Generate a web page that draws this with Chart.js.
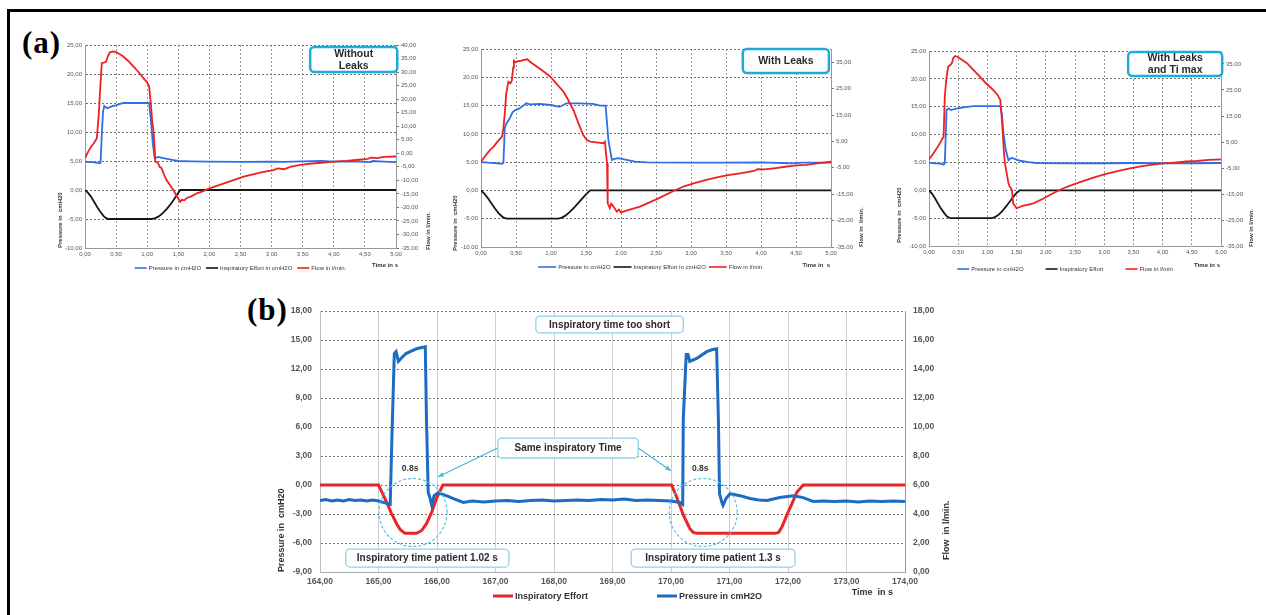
<!DOCTYPE html>
<html>
<head>
<meta charset="utf-8">
<script src="https://cdn.jsdelivr.net/npm/chart.js@4.4.1/dist/chart.umd.min.js"></script>
<style>
  html, body { margin: 0; background: #fff; }
  body { width: 1266px; height: 615px; position: relative; overflow: hidden; }
  .frame { position: absolute; left: 7px; top: 9px; right: -10px; bottom: -10px; border-top: 3px solid #000; border-left: 3px solid #000; }
  .tag { position: absolute; font: bold 31px 'Liberation Serif', 'Times New Roman', serif; line-height: 1; color: #000; letter-spacing: 1px; }
  canvas { position: absolute; }
</style>
</head>
<body>
<div class="frame"></div>
<div class="tag" style="left:22px;top:27px">(a)</div>
<div class="tag" style="left:247px;top:294px">(b)</div>
<canvas id="a1" width="400" height="240" style="left:50px;top:38px"></canvas>
<canvas id="a2" width="430" height="240" style="left:445px;top:38px"></canvas>
<canvas id="a3" width="380" height="240" style="left:885px;top:38px"></canvas>
<canvas id="b" width="700" height="312" style="left:268px;top:298px"></canvas>
<script>
// ---- tick labels ----
const A_TIME_TICKS = [0, 0.5, 1, 1.5, 2, 2.5, 3, 3.5, 4, 4.5, 5]
const A_PRESSURE_TICKS = [-10, -5, 0, 5, 10, 15, 20, 25]
const A1_FLOW_TICKS = [-35, -30, -25, -20, -15, -10, -5, 0, 5, 10, 15, 20, 25, 30, 35, 40]
const A23_FLOW_TICKS = [-35, -25, -15, -5, 5, 15, 25, 35]
const B_TIME_TICKS = [164, 165, 166, 167, 168, 169, 170, 171, 172, 173, 174]
const B_PRESSURE_TICKS = [-9, -6, -3, 0, 3, 6, 9, 12, 15, 18]
const B_FLOW_TICKS = [0, 2, 4, 6, 8, 10, 12, 14, 16, 18]

// ---- (a) without leaks: [time s, value] ----
const a1Pressure = [[0,4.9],[0.05,4.8],[0.1,4.85],[0.15,4.75],[0.2,4.7],[0.23,4.6],[0.25,4.7],[0.27,9.5],[0.29,13.5],[0.31,14.5],[0.33,14.3],[0.36,14.1],[0.4,14.3],[0.45,14.5],[0.5,14.6],[0.55,14.8],[0.62,15.0],[0.8,15.0],[0.95,15.0],[1.03,15.0],[1.06,12.0],[1.09,8.0],[1.12,5.5],[1.15,5.6],[1.18,5.7],[1.22,5.6],[1.3,5.4],[1.4,5.2],[1.5,5.0],[1.7,4.95],[2.0,4.9],[2.5,4.85],[3.0,4.9],[3.2,4.85],[3.5,4.95],[3.8,5.0],[4.0,4.9],[4.3,4.95],[4.6,4.8],[4.62,5.0],[4.8,4.9],[5.0,4.8]]
const a1Effort = [[0,0],[0.05,-0.5],[0.1,-1.2],[0.15,-2.1],[0.2,-3.0],[0.25,-3.8],[0.3,-4.5],[0.34,-4.85],[0.38,-5],[1.07,-5],[1.12,-4.9],[1.18,-4.6],[1.25,-4.0],[1.32,-3.2],[1.4,-2.1],[1.47,-1.0],[1.53,0],[5,0]]
const a1Flow = [[0,-1.8],[0.05,0.5],[0.1,2.5],[0.15,4.0],[0.19,5.6],[0.22,14],[0.25,26],[0.27,33.3],[0.3,33.5],[0.34,33.8],[0.37,36],[0.4,37.3],[0.45,37.6],[0.5,37.4],[0.6,36],[0.7,34],[0.78,32],[0.85,30.3],[0.92,28.3],[0.99,26.4],[1.03,24.9],[1.06,18],[1.08,12],[1.1,8.6],[1.12,2],[1.13,-3.1],[1.17,-3.5],[1.2,-5],[1.23,-5.5],[1.27,-7.8],[1.31,-9.9],[1.36,-11.5],[1.42,-13.6],[1.47,-15.6],[1.53,-17.9],[1.56,-17.2],[1.6,-17.4],[1.63,-16.6],[1.7,-16.0],[1.8,-14.8],[1.9,-14.0],[2.0,-13.0],[2.2,-11.4],[2.4,-9.8],[2.55,-8.6],[2.7,-7.8],[2.85,-7.0],[3.03,-6.2],[3.1,-5.6],[3.2,-5.9],[3.3,-5.0],[3.46,-4.3],[3.6,-3.9],[3.8,-3.5],[3.99,-3.1],[4.2,-2.8],[4.4,-2.4],[4.53,-2.2],[4.6,-1.6],[4.7,-1.8],[4.8,-1.3],[5.0,-1.2]]

// ---- (a) with leaks ----
const a2Pressure = [[0,5.0],[0.1,4.9],[0.2,4.85],[0.3,4.7],[0.32,4.9],[0.34,11.0],[0.36,11.8],[0.41,12.7],[0.45,13.8],[0.49,14.2],[0.55,14.5],[0.65,15.4],[0.7,15.2],[0.84,15.3],[1.0,15.1],[1.1,14.8],[1.13,14.8],[1.22,15.4],[1.4,15.4],[1.6,15.3],[1.7,15.0],[1.78,15.0],[1.82,8.9],[1.87,5.4],[1.91,5.6],[1.96,5.7],[2.08,5.4],[2.2,5.1],[2.37,4.95],[3.0,4.9],[3.5,4.9],[4.0,4.95],[4.4,4.8],[4.6,4.9],[5.0,4.9]]
const a2Effort = [[0,0],[0.05,-0.6],[0.1,-1.4],[0.15,-2.3],[0.2,-3.2],[0.25,-4.0],[0.3,-4.6],[0.34,-4.9],[0.37,-5],[1.1,-5],[1.15,-4.85],[1.2,-4.5],[1.27,-3.8],[1.34,-2.9],[1.42,-1.8],[1.5,-0.7],[1.56,0],[5,0]]
const a2Flow = [[0,-2.7],[0.06,-0.5],[0.12,1.5],[0.18,3.0],[0.24,5.0],[0.3,6.8],[0.32,10],[0.34,15.6],[0.36,23],[0.39,27.6],[0.42,27.0],[0.44,28],[0.46,33],[0.47,35.6],[0.5,34.9],[0.53,35.5],[0.56,35.4],[0.6,35.8],[0.66,36.1],[0.72,34.8],[0.8,33.3],[0.9,31.4],[0.99,29.5],[1.08,26.8],[1.18,23.8],[1.25,20.5],[1.32,16.9],[1.39,12.0],[1.46,7.4],[1.51,5.6],[1.56,4.9],[1.65,4.6],[1.75,4.3],[1.77,4.9],[1.8,-3.3],[1.81,-18.4],[1.84,-20.3],[1.86,-18.6],[1.89,-19.6],[1.94,-21.6],[1.97,-20.8],[2.0,-21.9],[2.1,-21.0],[2.27,-19.7],[2.4,-18.2],[2.55,-16.4],[2.75,-13.8],[2.9,-12.0],[3.05,-10.8],[3.22,-9.6],[3.4,-8.4],[3.55,-7.7],[3.7,-7.1],[3.9,-6.2],[3.95,-5.5],[4.05,-5.6],[4.18,-5.2],[4.35,-4.6],[4.5,-4.1],[4.65,-3.9],[4.8,-3.3],[5.0,-2.7]]

// ---- (a) with leaks and Ti max ----
const a3Pressure = [[0,4.95],[0.1,4.85],[0.2,4.8],[0.25,4.6],[0.27,4.8],[0.29,11],[0.3,14.4],[0.34,14.7],[0.37,14.4],[0.45,14.6],[0.59,14.9],[0.76,15.1],[1.0,15.1],[1.22,15.1],[1.25,13.5],[1.27,10.8],[1.31,7.5],[1.36,5.4],[1.39,5.7],[1.42,5.8],[1.5,5.5],[1.56,5.3],[1.7,5.05],[1.84,4.9],[2.5,4.85],[3.0,4.85],[3.5,4.9],[4.0,4.85],[4.5,4.85],[5.0,4.9]]
const a3Effort = [[0,0],[0.05,-0.6],[0.1,-1.4],[0.15,-2.3],[0.2,-3.2],[0.26,-4.1],[0.31,-4.7],[0.35,-4.95],[0.39,-5],[1.07,-5],[1.12,-4.85],[1.18,-4.5],[1.25,-3.8],[1.32,-2.9],[1.4,-1.8],[1.48,-0.7],[1.55,0],[5,0]]
const a3Flow = [[0,-1.7],[0.08,0.8],[0.16,3.5],[0.25,7.0],[0.27,22.4],[0.3,30],[0.33,34.0],[0.36,34.5],[0.39,35.3],[0.42,37.5],[0.45,38.1],[0.5,37.6],[0.57,36.5],[0.65,35.3],[0.76,32.7],[0.87,30.1],[0.98,27.5],[1.1,25.0],[1.17,23.2],[1.22,21.2],[1.24,16],[1.26,9.6],[1.28,2],[1.3,-3.2],[1.33,-7],[1.36,-10.9],[1.38,-12.0],[1.42,-13.5],[1.44,-18.6],[1.47,-19.5],[1.5,-20.5],[1.55,-20.0],[1.62,-19.5],[1.7,-19.1],[1.79,-18.6],[1.95,-16.8],[2.1,-15.0],[2.3,-12.8],[2.5,-11.1],[2.7,-9.6],[2.87,-8.3],[3.05,-7.2],[3.25,-6.1],[3.44,-5.1],[3.6,-4.5],[3.8,-3.8],[4.01,-3.2],[4.2,-2.9],[4.4,-2.5],[4.58,-2.3],[4.8,-1.9],[5.0,-1.7]]

// ---- (b) two breaths ----
const bEffort = [[164,0],[165.0,0],[165.07,-0.9],[165.14,-1.8],[165.22,-2.9],[165.31,-4.0],[165.37,-4.6],[165.45,-5.0],[165.65,-5.0],[165.74,-4.7],[165.82,-4.0],[165.91,-2.8],[165.99,-1.4],[166.1,0],[170.01,0],[170.1,-1.3],[170.21,-3.1],[170.32,-4.5],[170.38,-4.9],[170.44,-5.0],[171.78,-5.0],[171.84,-4.9],[171.9,-4.3],[171.98,-3.1],[172.07,-1.9],[172.15,-0.75],[172.26,0],[174,0]]
const bPressure = [[164,-1.6],[164.1,-1.5],[164.2,-1.65],[164.3,-1.55],[164.4,-1.65],[164.5,-1.5],[164.6,-1.6],[164.7,-1.55],[164.8,-1.65],[164.9,-1.55],[165.0,-1.65],[165.08,-1.8],[165.2,-2.0],[165.23,5.1],[165.27,13.6],[165.3,13.8],[165.34,12.8],[165.4,13.2],[165.47,13.6],[165.54,13.8],[165.65,14.1],[165.72,14.2],[165.8,14.3],[165.82,6.8],[165.85,-0.8],[165.87,-1.1],[165.91,-2.1],[165.95,-1.1],[166.02,-0.8],[166.11,-1.0],[166.2,-1.2],[166.28,-1.4],[166.45,-1.8],[166.6,-1.65],[166.8,-1.75],[167.0,-1.65],[167.2,-1.6],[167.4,-1.7],[167.6,-1.6],[167.8,-1.55],[168.0,-1.65],[168.2,-1.6],[168.4,-1.55],[168.6,-1.6],[168.8,-1.5],[169.0,-1.55],[169.2,-1.45],[169.4,-1.6],[169.6,-1.55],[169.8,-1.6],[170.0,-1.65],[170.15,-1.8],[170.2,-2.0],[170.21,6.8],[170.26,13.5],[170.29,13.5],[170.32,12.8],[170.44,13.1],[170.61,13.8],[170.7,14.0],[170.78,14.1],[170.81,6.8],[170.83,-0.9],[170.87,-1.8],[170.89,-2.1],[170.94,-1.4],[171.01,-0.9],[171.18,-1.1],[171.35,-1.4],[171.5,-1.55],[171.64,-1.6],[171.86,-1.3],[172.09,-1.1],[172.26,-1.3],[172.43,-1.7],[172.6,-1.65],[172.8,-1.7],[173.0,-1.65],[173.2,-1.75],[173.4,-1.65],[173.6,-1.7],[173.8,-1.65],[174,-1.7]]

const FONT = "'Liberation Sans', Arial, sans-serif"
const BLUE_A = '#2f6fe6'
const RED_A = '#ec2222'
const BLUE_B = '#1b6cc2'
const RED_B = '#ea2427'

const xy = pts => pts.map(([x, y]) => ({ x, y }))
const comma = v => v.toFixed(2).replace('.', ',')
const fixTicks = list => scale => { scale.ticks = list.map(value => ({ value })) }
const fixWidth = w => scale => { scale.width = w }
const fixHeight = h => scale => { scale.height = h }

// extra drawing per canvas: axis titles, legend, call-out boxes
const DECOR = {
  a1: {
    leftTitle: { text: 'Pressure in  cmH20', dx: -25, dy: 0 },
    rightTitle: { text: 'Flow in l/min.', dx: 32, dy: 2 },
    xTitle: { text: 'Time in s', dx: 2, dy: 17 },
    titleFont: 'bold 6px ' + FONT,
    legend: { dx: 0, dy: 20, line: 12, gap: 5, lw: 1.6, font: '6px ' + FONT },
    boxes: [{ x: [3.62, 5.02], y: [24.66, 20.34], text: ['Without', 'Leaks'] }],
    boxStyle: { stroke: '#22a9dc', width: 2.5, radius: 4, font: 'bold 10.5px ' + FONT, lh: 12 }
  },
  a2: {
    leftTitle: { text: 'Pressure in  cmH20', dx: -26, dy: 4 },
    rightTitle: { text: 'Flow in  l/min.', dx: 30, dy: 0 },
    xTitle: { text: 'Time in  s', dx: -1, dy: 18 },
    titleFont: 'bold 6px ' + FONT,
    legend: { dx: -5, dy: 20, line: 18, gap: 3, lw: 1.6, font: '6px ' + FONT },
    boxes: [{ x: [3.74, 4.97], y: [25, 20.76], text: ['With Leaks'] }],
    boxStyle: { stroke: '#22a9dc', width: 2.5, radius: 4, font: 'bold 10.5px ' + FONT, lh: 12 }
  },
  a3: {
    leftTitle: { text: 'Pressure in  cmH20', dx: -30, dy: -3 },
    rightTitle: { text: 'Flow in l/min.', dx: 30, dy: 1 },
    xTitle: { text: 'Time in s', dx: -1, dy: 19 },
    titleFont: 'bold 6px ' + FONT,
    legend: { dx: -10, dy: 23, line: 12, gap: 22, lw: 1.6, font: '6px ' + FONT },
    boxes: [{ x: [3.41, 5.02], y: [24.82, 20.51], text: ['With Leaks', 'and Ti max'] }],
    boxStyle: { stroke: '#22a9dc', width: 2.5, radius: 4, font: 'bold 10.5px ' + FONT, lh: 12 }
  },
  b: {
    leftTitle: { text: 'Pressure in  cmH20', dx: -38, dy: 0 },
    rightTitle: { text: 'Flow  in l/min.', dx: 42, dy: -12 },
    xTitle: { text: 'Time  in s', dx: -12, dy: 21 },
    titleFont: 'bold 9px ' + FONT,
    legend: { dx: 15, dy: 24, line: 20, gap: 69, lw: 3, font: 'bold 9px ' + FONT },
    boxes: [
      { x: [167.69, 170.21], y: [17.49, 15.74], text: ['Inspiratory time too short'] },
      { x: [167.04, 169.44], y: [4.86, 2.8], text: ['Same inspiratory Time'] },
      { x: [164.44, 167.23], y: [-6.64, -8.49], text: ['Inspiratory time patient 1.02 s'] },
      { x: [169.32, 172.12], y: [-6.64, -8.49], text: ['Inspiratory time patient 1.3 s'] }
    ],
    boxStyle: { stroke: '#8fd2ea', width: 1.3, radius: 4, font: 'bold 10px ' + FONT, lh: 12 },
    arrows: [
      { from: [167.04, 3.83], to: [166.02, 0.85] },
      { from: [169.44, 3.83], to: [170.0, 1.47] }
    ],
    circles: [{ x: 165.59, y: -2.84, r: 34 }, { x: 170.55, y: -2.84, r: 34 }],
    notes: [{ x: 165.54, y: 1.68, text: '0.8s' }, { x: 170.5, y: 1.68, text: '0.8s' }]
  }
}

function vText(ctx, text, x, yBottom) {
  ctx.save()
  ctx.translate(x, yBottom)
  ctx.rotate(-Math.PI / 2)
  ctx.textAlign = 'left'
  ctx.textBaseline = 'middle'
  ctx.fillText(text, 0, 0)
  ctx.restore()
}

const decorPlugin = {
  id: 'decor',
  afterDraw(chart) {
    const d = DECOR[chart.canvas.id]
    const { ctx, chartArea: ca, scales } = chart
    const px = v => scales.x.getPixelForValue(v)
    const py = v => scales.y.getPixelForValue(v)
    ctx.save()

    // dashed circles round the patient effort
    ctx.setLineDash([3, 2])
    ctx.strokeStyle = '#5cc2e4'
    ctx.lineWidth = 1.2
    for (const c of d.circles || []) {
      ctx.beginPath()
      ctx.arc(px(c.x), py(c.y), c.r, 0, Math.PI * 2)
      ctx.stroke()
    }
    ctx.setLineDash([])

    // arrows
    ctx.strokeStyle = '#45b6df'
    ctx.fillStyle = '#45b6df'
    ctx.lineWidth = 1.2
    for (const a of d.arrows || []) {
      const x1 = px(a.from[0]), y1 = py(a.from[1]), x2 = px(a.to[0]), y2 = py(a.to[1])
      const ang = Math.atan2(y2 - y1, x2 - x1)
      ctx.beginPath()
      ctx.moveTo(x1, y1)
      ctx.lineTo(x2, y2)
      ctx.stroke()
      ctx.beginPath()
      ctx.moveTo(x2, y2)
      ctx.lineTo(x2 - 6 * Math.cos(ang - 0.4), y2 - 6 * Math.sin(ang - 0.4))
      ctx.lineTo(x2 - 6 * Math.cos(ang + 0.4), y2 - 6 * Math.sin(ang + 0.4))
      ctx.closePath()
      ctx.fill()
    }

    // call-out boxes
    const bs = d.boxStyle
    for (const b of d.boxes || []) {
      const x1 = px(b.x[0]), x2 = px(b.x[1]), y1 = py(b.y[0]), y2 = py(b.y[1])
      ctx.beginPath()
      ctx.roundRect(x1, y1, x2 - x1, y2 - y1, bs.radius)
      ctx.fillStyle = '#fff'
      ctx.fill()
      ctx.lineWidth = bs.width
      ctx.strokeStyle = bs.stroke
      ctx.stroke()
      ctx.fillStyle = '#2a2a2a'
      ctx.font = bs.font
      ctx.textAlign = 'center'
      ctx.textBaseline = 'middle'
      const cx = (x1 + x2) / 2, cy = (y1 + y2) / 2
      b.text.forEach((t, i) => ctx.fillText(t, cx, cy + (i - (b.text.length - 1) / 2) * bs.lh + 0.5))
    }

    ctx.font = 'bold 8.5px ' + FONT
    ctx.fillStyle = '#333'
    ctx.textAlign = 'center'
    ctx.textBaseline = 'middle'
    for (const n of d.notes || []) ctx.fillText(n.text, px(n.x), py(n.y))

    // axis titles
    ctx.font = d.titleFont
    ctx.fillStyle = '#333'
    vText(ctx, d.leftTitle.text, ca.left + d.leftTitle.dx, ca.bottom + d.leftTitle.dy)
    vText(ctx, d.rightTitle.text, ca.right + d.rightTitle.dx, ca.bottom + d.rightTitle.dy)
    ctx.textAlign = 'right'
    ctx.textBaseline = 'middle'
    ctx.fillText(d.xTitle.text, ca.right + d.xTitle.dx, ca.bottom + d.xTitle.dy)

    // legend built from the datasets
    const L = d.legend
    ctx.font = L.font
    const items = chart.data.datasets
    const widths = items.map(ds => L.line + 2 + ctx.measureText(ds.label).width)
    const total = widths.reduce((s, w) => s + w, 0) + L.gap * (items.length - 1)
    let x = (ca.left + ca.right) / 2 + L.dx - total / 2
    const y = ca.bottom + L.dy
    items.forEach((ds, i) => {
      ctx.strokeStyle = ds.borderColor
      ctx.lineWidth = L.lw
      ctx.beginPath()
      ctx.moveTo(x, y)
      ctx.lineTo(x + L.line, y)
      ctx.stroke()
      ctx.fillStyle = '#333'
      ctx.textAlign = 'left'
      ctx.textBaseline = 'middle'
      ctx.fillText(ds.label, x + L.line + 2, y + 0.5)
      x += widths[i] + L.gap
    })
    ctx.restore()
  }
}

function aScales(flowTicks, sizes) {
  const tickFont = { family: FONT, size: 6 }
  return {
    x: {
      type: 'linear', min: 0, max: 5,
      afterBuildTicks: fixTicks(A_TIME_TICKS),
      afterFit: fixHeight(sizes.bottom),
      ticks: { callback: comma, font: tickFont, color: '#555', padding: 3, maxRotation: 0, autoSkip: false },
      grid: { color: '#9a9a9a', drawTicks: false },
      border: { color: '#999', dash: [2, 2] }
    },
    y: {
      position: 'left', min: -10, max: 25,
      afterBuildTicks: fixTicks(A_PRESSURE_TICKS),
      afterFit: fixWidth(sizes.left),
      ticks: { callback: comma, font: tickFont, color: '#555', padding: 3, autoSkip: false },
      grid: { color: '#6f6f6f', drawTicks: false },
      border: { color: '#999', dash: [2, 2] }
    },
    y1: {
      position: 'right', min: -35, max: 40,
      afterBuildTicks: fixTicks(flowTicks),
      afterFit: fixWidth(sizes.right),
      ticks: { callback: comma, font: tickFont, color: '#555', padding: 2, autoSkip: false },
      grid: { drawOnChartArea: false, drawTicks: true, tickLength: 3, color: '#777' },
      border: { color: '#999' }
    }
  }
}

function aDatasets(pressure, effort, flow, effortLabel, flowLabel) {
  return [
    { label: 'Pressure in cmH2O', data: xy(pressure), borderColor: BLUE_A, yAxisID: 'y', order: 1 },
    { label: effortLabel, data: xy(effort), borderColor: '#161616', yAxisID: 'y', order: 2 },
    { label: flowLabel, data: xy(flow), borderColor: RED_A, yAxisID: 'y1', order: 0 }
  ]
}

function makeChart(id, datasets, scales, topPad, lineWidth) {
  return new Chart(document.getElementById(id), {
    type: 'line',
    data: { datasets },
    options: {
      responsive: false,
      animation: false,
      events: [],
      layout: { padding: { top: topPad, left: 0, right: 0, bottom: 0 } },
      elements: { point: { radius: 0 }, line: { tension: 0, borderWidth: lineWidth } },
      scales,
      plugins: { legend: { display: false }, tooltip: { enabled: false } }
    },
    plugins: [decorPlugin]
  })
}

makeChart('a1',
  aDatasets(a1Pressure, a1Effort, a1Flow, 'Inspiratory Effort in cmH2O', 'Flow in l/min.'),
  aScales(A1_FLOW_TICKS, { left: 35, right: 54, bottom: 30 }), 7, 1.8)
makeChart('a2',
  aDatasets(a2Pressure, a2Effort, a2Flow, 'Inspiratory Effort in cmH2O', 'Flow in l/min.'),
  aScales(A23_FLOW_TICKS, { left: 36, right: 44, bottom: 31 }), 11, 1.8)
makeChart('a3',
  aDatasets(a3Pressure, a3Effort, a3Flow, 'Inspiratory Effort', 'Flow in l/min'),
  aScales(A23_FLOW_TICKS, { left: 44, right: 44, bottom: 32 }), 13, 1.8)

// (b): both traces on the pressure axis, flow axis shown on the right
const bTickFont = { family: FONT, size: 8.5, weight: 'bold' }
makeChart('b',
  [
    { label: 'Inspiratory Effort', data: xy(bEffort), borderColor: RED_B, yAxisID: 'y', order: 1 },
    { label: 'Pressure in cmH2O', data: xy(bPressure), borderColor: BLUE_B, yAxisID: 'y', order: 0 }
  ],
  {
    x: {
      type: 'linear', min: 164, max: 174,
      afterBuildTicks: fixTicks(B_TIME_TICKS),
      afterFit: fixHeight(38),
      ticks: { callback: comma, font: bTickFont, color: '#555', padding: 5, maxRotation: 0, autoSkip: false },
      grid: { color: '#cfcfcf', drawTicks: false },
      border: { color: '#aaa' }
    },
    y: {
      position: 'left', min: -9, max: 18,
      afterBuildTicks: fixTicks(B_PRESSURE_TICKS),
      afterFit: fixWidth(52),
      ticks: { callback: comma, font: bTickFont, color: '#555', padding: 8, autoSkip: false },
      grid: { color: '#7a7a7a', drawTicks: false },
      border: { color: '#bbb', dash: [2, 2] }
    },
    y1: {
      position: 'right', min: 0, max: 18,
      afterBuildTicks: fixTicks(B_FLOW_TICKS),
      afterFit: fixWidth(63),
      ticks: { callback: comma, font: bTickFont, color: '#555', padding: 8, autoSkip: false },
      grid: { drawOnChartArea: false, drawTicks: false },
      border: { color: '#999' }
    }
  }, 11, 3)
</script>
</body>
</html>
